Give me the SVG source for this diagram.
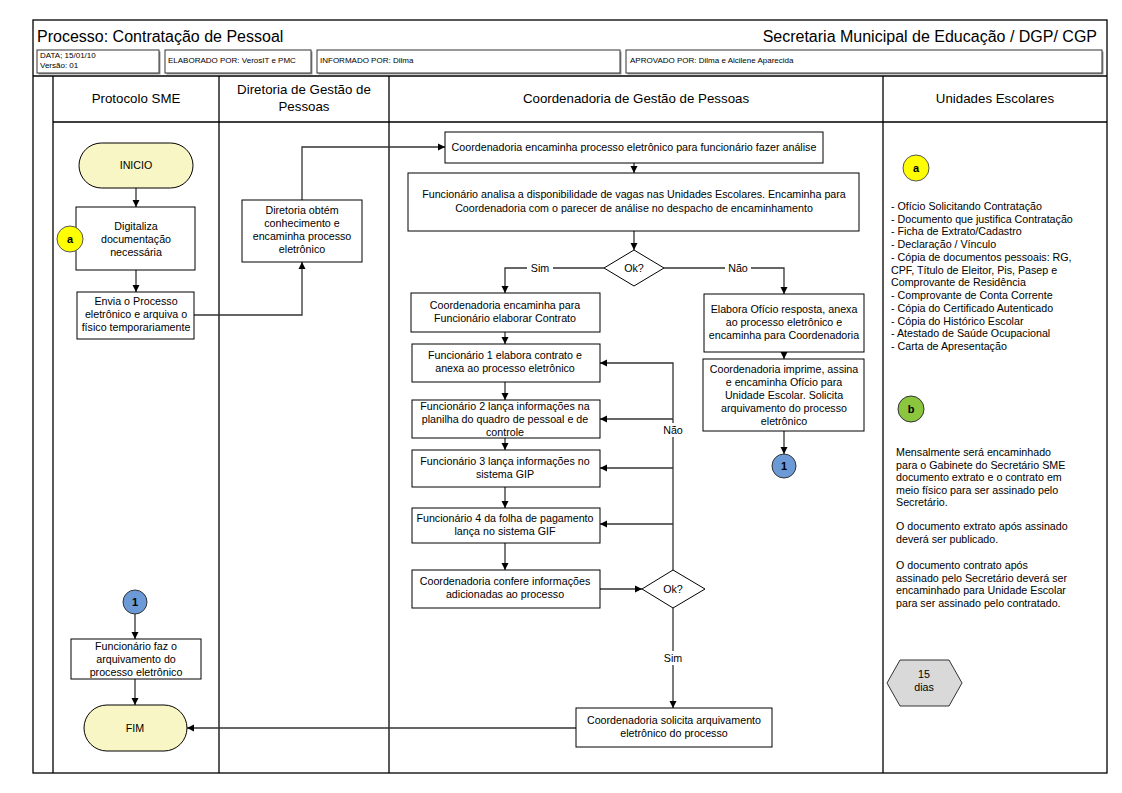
<svg xmlns="http://www.w3.org/2000/svg" width="1122" height="793" viewBox="0 0 1122 793">
<style>
text{font-family:"Liberation Sans",Arial,sans-serif;fill:#000}
.t{font-size:10.7px;text-anchor:middle}
.l{font-size:10.7px}
.h{font-size:13.3px;text-anchor:middle}
.s{font-size:8px}
.box{fill:#fff;stroke:#000;stroke-width:1}
.hb{fill:#fff;stroke:#333;stroke-width:1}
.sh{fill:#999}
.term{fill:#F8F6C4;stroke:#000;stroke-width:1}
.lane{fill:none;stroke:#000;stroke-width:1.3}
.c{fill:none;stroke:#333;stroke-width:1.3}
.ca{fill:#FFFF00;stroke:#555;stroke-width:1}
.cb{fill:#8CC63F;stroke:#333;stroke-width:1}
.c1{fill:#6C9AD6;stroke:#333;stroke-width:1}
.bold{font-weight:bold;font-size:11px;text-anchor:middle}
</style>
<defs>
<marker id="arr" markerUnits="userSpaceOnUse" markerWidth="8" markerHeight="8" refX="7" refY="4" orient="auto">
<path d="M0,0.5 L7,4 L0,7.5 z" fill="#000"/>
</marker>
</defs>
<rect width="1122" height="793" fill="#fff"/>
<g id="frame">
<rect x="33" y="20" width="1074" height="753" class="lane"/>
<line x1="33" y1="76" x2="1107" y2="76" class="lane"/>
<line x1="53" y1="122" x2="1107" y2="122" class="lane"/>
<line x1="53" y1="76" x2="53" y2="773" class="lane"/>
<line x1="219" y1="76" x2="219" y2="773" class="lane"/>
<line x1="389" y1="76" x2="389" y2="773" class="lane"/>
<line x1="883" y1="76" x2="883" y2="773" class="lane"/>
</g>
<g id="header">
<text x="37" y="42" style="font-size:16px">Processo: Contratação de Pessoal</text>
<text x="1097" y="42" style="font-size:16px;text-anchor:end">Secretaria Municipal de Educação / DGP/ CGP</text>
<rect x="38.5" y="51.5" width="122" height="23" class="sh"/>
<rect x="37" y="50" width="122" height="23" class="hb"/>
<text x="40" y="58" class="s">DATA; 15/01/10</text>
<text x="40" y="68" class="s">Versão: 01</text>
<rect x="166.5" y="51.5" width="146" height="23" class="sh"/>
<rect x="165" y="50" width="146" height="23" class="hb"/>
<text x="168" y="63" class="s">ELABORADO POR: VerosIT e PMC</text>
<rect x="318.5" y="51.5" width="303" height="23" class="sh"/>
<rect x="317" y="50" width="303" height="23" class="hb"/>
<text x="320" y="63" class="s">INFORMADO POR: Dilma</text>
<rect x="627.5" y="51.5" width="476" height="23" class="sh"/>
<rect x="626" y="50" width="476" height="23" class="hb"/>
<text x="630" y="63" class="s">APROVADO POR: Dilma e Alcilene Aparecida</text>
</g>
<g id="lane-titles">
<text x="136" y="103" class="h">Protocolo SME</text>
<text x="304" y="94" class="h">Diretoria de Gestão de</text>
<text x="304" y="111" class="h">Pessoas</text>
<text x="636" y="103" class="h">Coordenadoria de Gestão de Pessoas</text>
<text x="995" y="103" class="h">Unidades Escolares</text>
</g>
<g id="connectors">
<path d="M136,188 V207" class="c" marker-end="url(#arr)"/>
<path d="M136,270 V292" class="c" marker-end="url(#arr)"/>
<path d="M194,315 H302 V262" class="c" marker-end="url(#arr)"/>
<path d="M302,200 V147 H445" class="c" marker-end="url(#arr)"/>
<path d="M634,163 V173" class="c" marker-end="url(#arr)"/>
<path d="M634,231 V250" class="c" marker-end="url(#arr)"/>
<path d="M604,268 H505 V293" class="c" marker-end="url(#arr)"/>
<path d="M664,268 H784 V294" class="c" marker-end="url(#arr)"/>
<path d="M505,332 V344" class="c" marker-end="url(#arr)"/>
<path d="M505,382 V400" class="c" marker-end="url(#arr)"/>
<path d="M505,438 V450" class="c" marker-end="url(#arr)"/>
<path d="M505,487 V508" class="c" marker-end="url(#arr)"/>
<path d="M505,543 V570" class="c" marker-end="url(#arr)"/>
<path d="M600,589 H642" class="c" marker-end="url(#arr)"/>
<path d="M673,570 V363 H600" class="c" marker-end="url(#arr)"/>
<path d="M673,419 H600" class="c" marker-end="url(#arr)"/>
<path d="M673,468 H600" class="c" marker-end="url(#arr)"/>
<path d="M673,524 H600" class="c" marker-end="url(#arr)"/>
<path d="M673,608 V708" class="c" marker-end="url(#arr)"/>
<path d="M576,728 H187" class="c" marker-end="url(#arr)"/>
<path d="M784,352 V359" class="c" marker-end="url(#arr)"/>
<path d="M784,431 V454" class="c" marker-end="url(#arr)"/>
<path d="M135,614 V639" class="c" marker-end="url(#arr)"/>
<path d="M135,679 V705" class="c" marker-end="url(#arr)"/>
<rect x="527" y="261" width="26" height="13" fill="#fff"/>
<text x="540" y="272" class="t">Sim</text>
<rect x="725" y="261" width="26" height="13" fill="#fff"/>
<text x="738" y="272" class="t">Não</text>
<rect x="660" y="423" width="26" height="14" fill="#fff"/>
<text x="673" y="434" class="t">Não</text>
<rect x="661" y="651" width="24" height="14" fill="#fff"/>
<text x="673" y="662" class="t">Sim</text>
</g>
<g id="inicio">
<rect x="79" y="143" width="114" height="45" rx="22.5" class="term"/>
<text x="136" y="169" class="t">INICIO</text>
</g>
<g id="digitaliza">
<rect x="76" y="207" width="119" height="63" class="box"/>
<text x="136" y="230" class="t">Digitaliza</text>
<text x="136" y="243" class="t">documentação</text>
<text x="136" y="256" class="t">necessária</text>
</g>
<g id="ref-a-left">
<circle cx="70" cy="239" r="13" class="ca"/>
<text x="70" y="243" class="bold">a</text>
</g>
<g id="envia">
<rect x="77" y="292" width="117" height="47" class="box"/>
<text x="136" y="305" class="t">Envia o Processo</text>
<text x="136" y="318" class="t">eletrônico e arquiva o</text>
<text x="136" y="331" class="t">físico temporariamente</text>
</g>
<g id="diretoria">
<rect x="242" y="200" width="120" height="62" class="box"/>
<text x="302" y="214" class="t">Diretoria obtém</text>
<text x="302" y="227" class="t">conhecimento e</text>
<text x="302" y="240" class="t">encaminha processo</text>
<text x="302" y="253" class="t">eletrônico</text>
</g>
<g id="coord-encaminha">
<rect x="445" y="132" width="378" height="31" class="box"/>
<text x="634" y="151" class="t">Coordenadoria encaminha processo eletrônico para funcionário fazer análise</text>
</g>
<g id="funcionario-analisa">
<rect x="408" y="173" width="451" height="58" class="box"/>
<text x="634" y="198" class="t">Funcionário analisa a disponibilidade de vagas nas Unidades Escolares. Encaminha para</text>
<text x="634" y="212" class="t">Coordenadoria com o parecer de análise no despacho de encaminhamento</text>
</g>
<g id="ok1">
<polygon points="634,250 664,268 634,286 604,268" class="box"/>
<text x="634" y="272" class="t">Ok?</text>
</g>
<g id="coord-contrato">
<rect x="411" y="293" width="189" height="39" class="box"/>
<text x="505" y="309" class="t">Coordenadoria encaminha para</text>
<text x="505" y="322" class="t">Funcionário elaborar Contrato</text>
</g>
<g id="func1">
<rect x="412" y="344" width="188" height="38" class="box"/>
<text x="505" y="359" class="t">Funcionário 1 elabora contrato e</text>
<text x="505" y="372" class="t">anexa ao processo eletrônico</text>
</g>
<g id="func2">
<rect x="412" y="400" width="188" height="38" class="box"/>
<text x="505" y="410" class="t">Funcionário 2 lança informações na</text>
<text x="505" y="423" class="t">planilha do quadro de pessoal e de</text>
<text x="505" y="436" class="t">controle</text>
</g>
<g id="func3">
<rect x="412" y="450" width="188" height="37" class="box"/>
<text x="505" y="465" class="t">Funcionário 3 lança informações no</text>
<text x="505" y="478" class="t">sistema GIP</text>
</g>
<g id="func4">
<rect x="412" y="508" width="188" height="35" class="box"/>
<text x="505" y="522" class="t">Funcionário 4 da folha de pagamento</text>
<text x="505" y="535" class="t">lança no sistema GIF</text>
</g>
<g id="coord-confere">
<rect x="412" y="570" width="188" height="38" class="box"/>
<text x="505" y="585" class="t">Coordenadoria confere informações</text>
<text x="505" y="598" class="t">adicionadas ao processo</text>
</g>
<g id="ok2">
<polygon points="673,570 705,589 673,608 642,589" class="box"/>
<text x="673" y="593" class="t">Ok?</text>
</g>
<g id="coord-solicita">
<rect x="576" y="708" width="196" height="39" class="box"/>
<text x="674" y="724" class="t">Coordenadoria solicita arquivamento</text>
<text x="674" y="737" class="t">eletrônico do processo</text>
</g>
<g id="elabora-oficio">
<rect x="704" y="294" width="160" height="58" class="box"/>
<text x="784" y="313" class="t">Elabora Ofício resposta, anexa</text>
<text x="784" y="326" class="t">ao processo eletrônico e</text>
<text x="784" y="339" class="t">encaminha para Coordenadoria</text>
</g>
<g id="coord-imprime">
<rect x="703" y="359" width="161" height="72" class="box"/>
<text x="784" y="373" class="t">Coordenadoria imprime, assina</text>
<text x="784" y="386" class="t">e encaminha Ofício para</text>
<text x="784" y="399" class="t">Unidade Escolar. Solicita</text>
<text x="784" y="412" class="t">arquivamento do processo</text>
<text x="784" y="425" class="t">eletrônico</text>
</g>
<g id="conn1-out">
<circle cx="784" cy="466" r="12" class="c1"/>
<text x="784" y="470" class="bold">1</text>
</g>
<g id="conn1-in">
<circle cx="135" cy="602" r="12" class="c1"/>
<text x="135" y="606" class="bold">1</text>
</g>
<g id="func-arquiva">
<rect x="71" y="639" width="130" height="40" class="box"/>
<text x="136" y="650" class="t">Funcionário faz o</text>
<text x="136" y="663" class="t">arquivamento do</text>
<text x="136" y="676" class="t">processo eletrônico</text>
</g>
<g id="fim">
<rect x="84" y="705" width="103" height="46" rx="23" class="term"/>
<text x="135" y="732" class="t">FIM</text>
</g>
<g id="ref-a">
<circle cx="916" cy="168" r="13" class="ca"/>
<text x="916" y="172" class="bold">a</text>
<text class="l" x="891">
<tspan x="891" y="210">- Ofício Solicitando Contratação</tspan>
<tspan x="891" y="223">- Documento que justifica Contratação</tspan>
<tspan x="891" y="235">- Ficha de Extrato/Cadastro</tspan>
<tspan x="891" y="248">- Declaração / Vínculo</tspan>
<tspan x="891" y="261">- Cópia de documentos pessoais: RG,</tspan>
<tspan x="891" y="274">CPF, Título de Eleitor, Pis, Pasep e</tspan>
<tspan x="891" y="286">Comprovante de Residência</tspan>
<tspan x="891" y="299">- Comprovante de Conta Corrente</tspan>
<tspan x="891" y="312">- Cópia do Certificado Autenticado</tspan>
<tspan x="891" y="325">- Cópia do Histórico Escolar</tspan>
<tspan x="891" y="337">- Atestado de Saúde Ocupacional</tspan>
<tspan x="891" y="350">- Carta de Apresentação</tspan>
</text>
</g>
<g id="ref-b">
<circle cx="911" cy="409" r="13" class="cb"/>
<text x="911" y="413" class="bold">b</text>
<text class="l">
<tspan x="896" y="456">Mensalmente será encaminhado</tspan>
<tspan x="896" y="469">para o Gabinete do Secretário SME</tspan>
<tspan x="896" y="481">documento extrato e o contrato em</tspan>
<tspan x="896" y="494">meio físico para ser assinado pelo</tspan>
<tspan x="896" y="506">Secretário.</tspan>
<tspan x="896" y="530">O documento extrato após assinado</tspan>
<tspan x="896" y="543">deverá ser  publicado.</tspan>
<tspan x="896" y="569">O documento contrato após</tspan>
<tspan x="896" y="582">assinado pelo Secretário deverá ser</tspan>
<tspan x="896" y="594">encaminhado para Unidade Escolar</tspan>
<tspan x="896" y="607">para ser assinado pelo contratado.</tspan>
</text>
</g>
<g id="prazo">
<polygon points="887,683 900,660 949,660 962,683 949,706 900,706" fill="#D9D9D9" stroke="#333" stroke-width="1"/>
<text x="924" y="678" class="t">15</text>
<text x="924" y="691" class="t">dias</text>
</g>
</svg>
